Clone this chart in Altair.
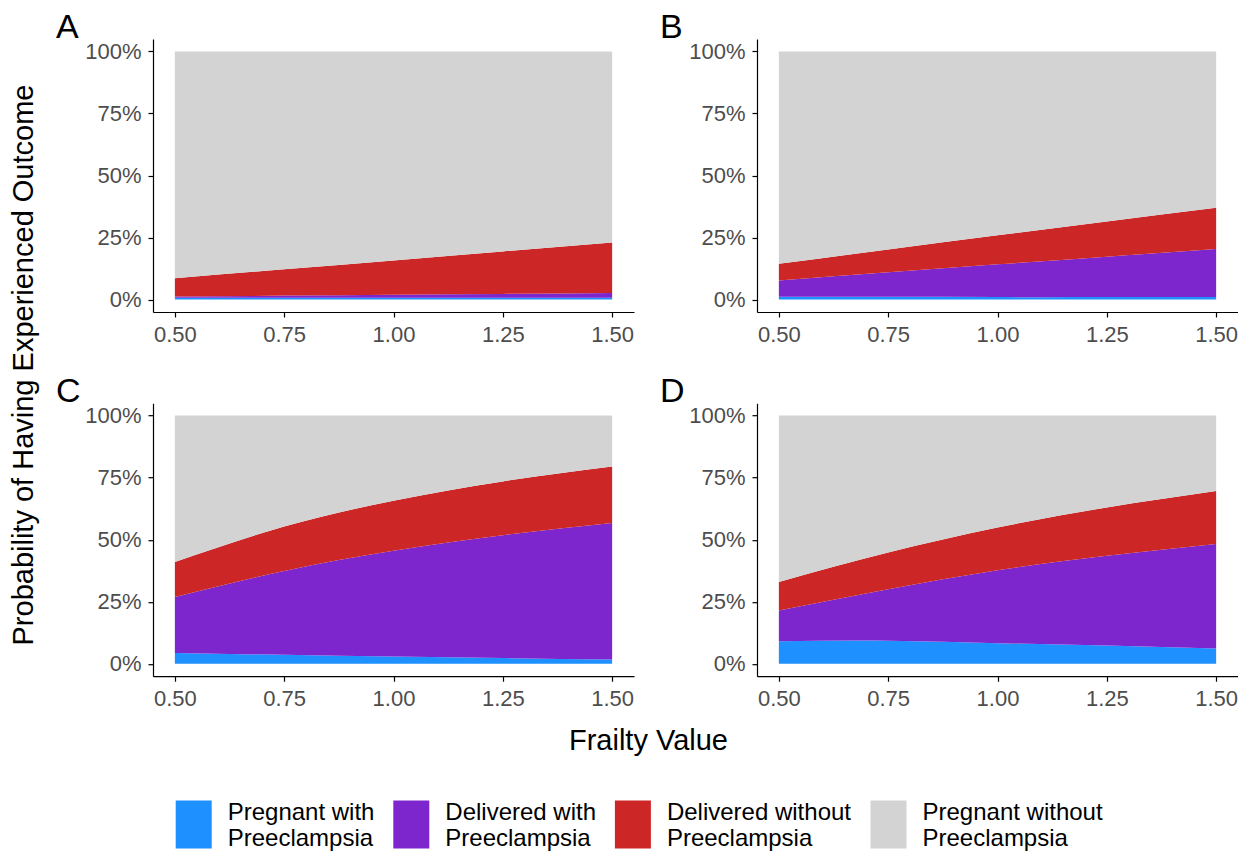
import altair as alt
import pandas as pd

# ---------------- data (percent of women) ----------------
frailty = [0.5, 0.75, 1.0, 1.25, 1.5]
categories = [
    "Pregnant with Preeclampsia",
    "Delivered with Preeclampsia",
    "Delivered without Preeclampsia",
    "Pregnant without Preeclampsia",
]
colors = ["#1E90FF", "#7D26CD", "#CD2626", "#D3D3D3"]
panels = ["A", "B", "C", "D"]
x_ticks = [0.5, 0.75, 1.0, 1.25, 1.5]
y_ticks = [0, 0.25, 0.5, 0.75, 1.0]

# Panel A
a_preg_pe = [0.7, 0.7, 0.7, 0.7, 0.7]
a_deliv_pe = [0.5, 0.9, 1.3, 1.6, 2.0]
a_deliv_no = [7.4, 10.6, 13.8, 17.1, 20.3]
a_preg_no = [91.4, 87.8, 84.2, 80.6, 77.0]
# Panel B
b_preg_pe = [1.1, 1.1, 1.0, 1.0, 1.0]
b_deliv_pe = [6.6, 9.9, 13.2, 16.3, 19.4]
b_deliv_no = [6.7, 9.2, 11.7, 14.2, 16.6]
b_preg_no = [85.6, 79.8, 74.1, 68.5, 63.0]
# Panel C
c_preg_pe = [4.3, 3.6, 2.9, 2.3, 1.7]
c_deliv_pe = [22.6, 33.8, 42.6, 49.5, 55.0]
c_deliv_no = [14.1, 17.9, 20.2, 21.7, 22.8]
c_preg_no = [59.0, 44.7, 34.3, 26.5, 20.5]
# Panel D
d_preg_pe = [9.1, 9.3, 8.3, 7.4, 6.2]
d_deliv_pe = [12.4, 20.7, 29.4, 36.1, 42.1]
d_deliv_no = [11.5, 14.8, 17.2, 19.5, 21.3]
d_preg_no = [67.0, 55.2, 45.1, 37.0, 30.4]

panel_series = {
    "A": [a_preg_pe, a_deliv_pe, a_deliv_no, a_preg_no],
    "B": [b_preg_pe, b_deliv_pe, b_deliv_no, b_preg_no],
    "C": [c_preg_pe, c_deliv_pe, c_deliv_no, c_preg_no],
    "D": [d_preg_pe, d_deliv_pe, d_deliv_no, d_preg_no],
}

rows = []
for p in panels:
    for k, (cat, vals) in enumerate(zip(categories, panel_series[p])):
        for x, v in zip(frailty, vals):
            rows.append({"panel": p, "frailty": x, "category": cat,
                         "stack_order": k, "value": v / 100.0})
df = pd.DataFrame(rows)

# ---------------- styling ----------------
FONT = "Liberation Sans"
PW, PH = 481, 273
Y_TITLE = "Probability of Having Experienced Outcome"
X_TITLE = "Frailty Value"

legend = alt.Legend(
    orient="none", legendX=16.7, legendY=750, direction="horizontal",
    title=None,
    symbolType="M-0.75,-0.525H0.75V1.475H-0.75Z", symbolSize=2304,
    symbolStrokeWidth=0, symbolOpacity=1,
    labelFont=FONT, labelFontSize=24, labelColor="black", labelLimit=400,
    labelOffset=10, columnPadding=12.6, labelBaseline="middle",
    labelExpr="split(replace(datum.label, ' Preeclampsia', '|Preeclampsia'), '|')",
)


def text_layer(txt, x, y, size, angle=0, align="left"):
    kw = dict(font=FONT, fontSize=size, align=align, baseline="alphabetic",
              color="black")
    if angle:
        kw["angle"] = angle
    return alt.Chart(pd.DataFrame({"t": [txt]})).mark_text(**kw).encode(
        x=alt.value(x), y=alt.value(y), text="t:N")


def panel(p):
    area = alt.Chart(df[df.panel == p]).mark_area(interpolate="natural").encode(
        x=alt.X("frailty:Q",
                scale=alt.Scale(domain=[0.45, 1.55], nice=False, zero=False),
                axis=alt.Axis(values=x_ticks, format=".2f", title=None)),
        y=alt.Y("value:Q", stack="zero",
                scale=alt.Scale(domain=[-0.05, 1.05], nice=False, zero=False),
                axis=alt.Axis(values=y_ticks, format=".0%", title=None)),
        color=alt.Color("category:N",
                        scale=alt.Scale(domain=categories, range=colors),
                        legend=legend),
        order=alt.Order("stack_order:Q", sort="ascending"),
    )
    layers = [area, text_layer(p, -97, -0.8, 34)]
    if p == "A":
        layers.append(text_layer(Y_TITLE, -120, 326, 29, angle=270, align="center"))
        anchor = alt.Chart(pd.DataFrame({"a": [0]})).mark_rect(opacity=0).encode(
            x=alt.value(-145), x2=alt.value(-145),
            y=alt.value(-30.6), y2=alt.value(-30.6))
        layers.append(anchor)
    if p == "C":
        layers.append(text_layer(X_TITLE, 495.5, 346.4, 29, align="center"))
    return alt.layer(*layers).properties(width=PW, height=PH)


chart = alt.concat(
    *[panel(p) for p in panels],
    columns=2, spacing={"row": 91.2, "column": 123}, bounds="flush",
).properties(
    padding=0
).configure_view(stroke=None).configure_axis(
    domainColor="black", domainWidth=1.2, tickColor="black", tickWidth=1.2,
    tickSize=5, labelFont=FONT, labelFontSize=22, labelColor="#4D4D4D",
    labelPadding=7, grid=False,
).resolve_scale(color="shared")

chart.save("out.html", embed_options={"renderer": "svg", "actions": False})
